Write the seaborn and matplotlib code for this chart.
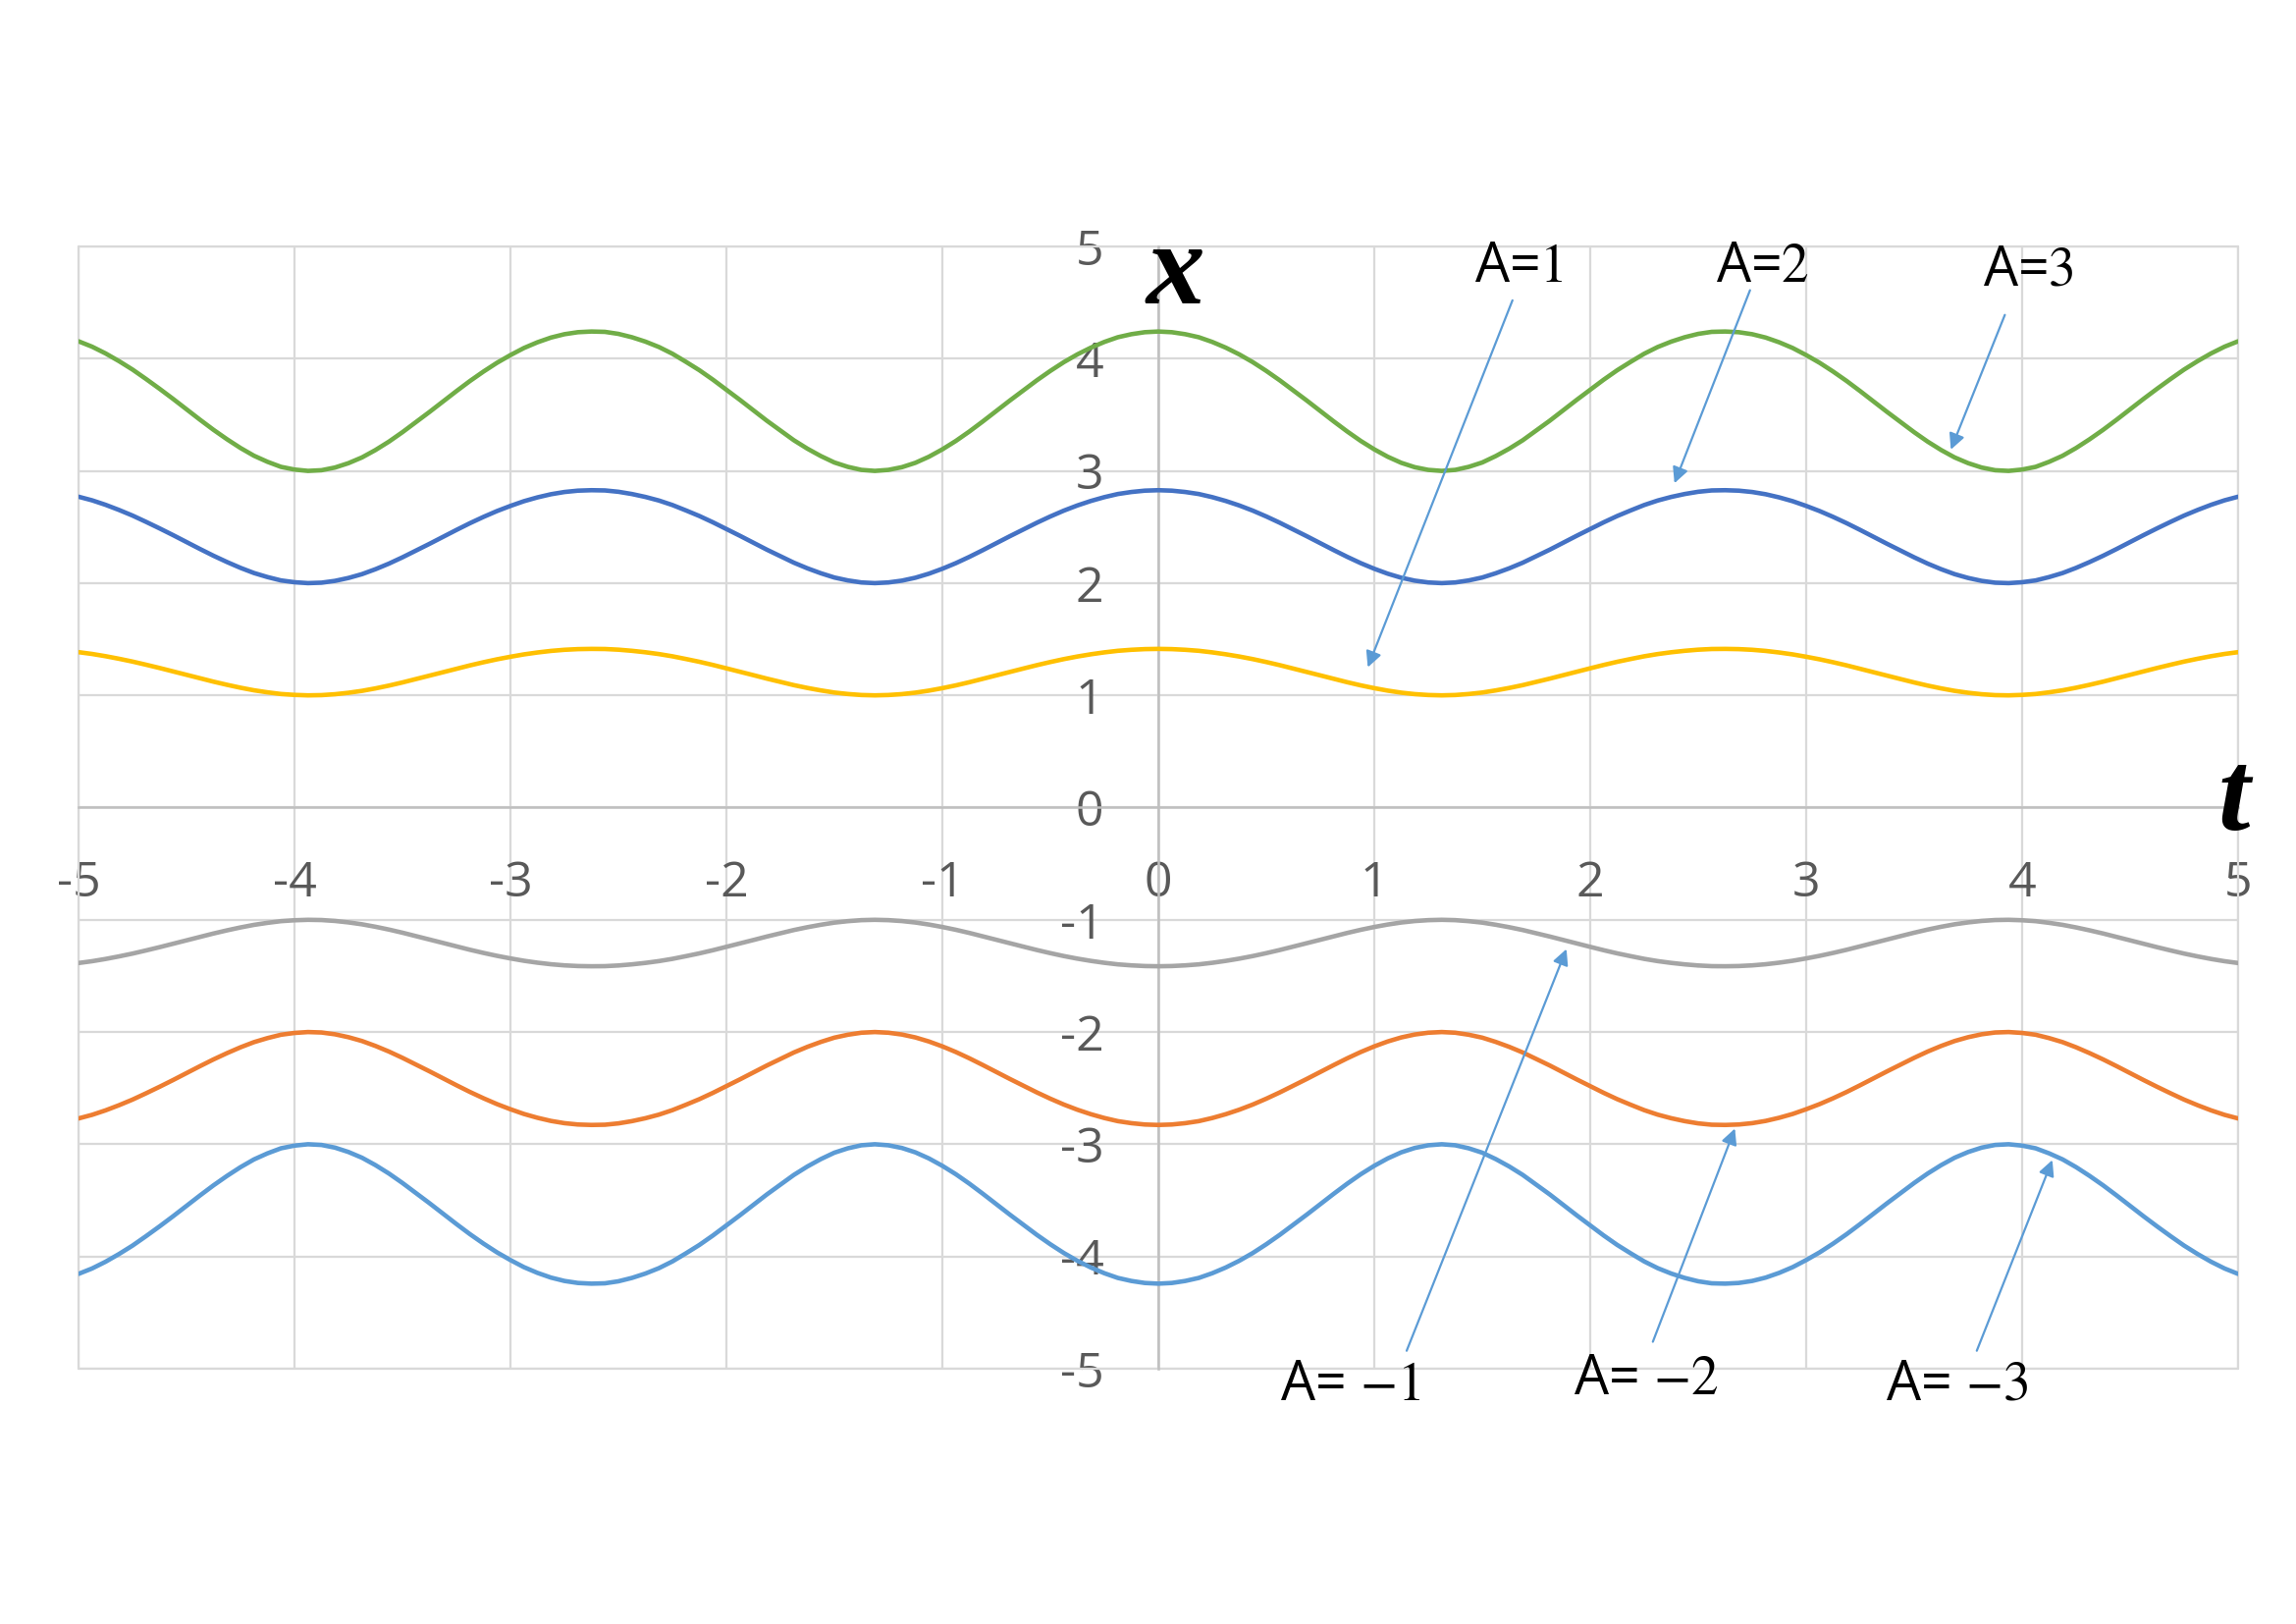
import numpy as np
import pandas as pd
import seaborn as sns
import matplotlib.pyplot as plt

# time grid (step 0.0625) and the values
t_values = np.linspace(-5, 5, 161)

x_a1 = [1.385, 1.369, 1.349, 1.326, 1.301, 1.273, 1.244, 1.214, 1.183, 1.152,
        1.122, 1.094, 1.068, 1.045, 1.027, 1.012, 1.004, 1.000, 1.002, 1.010,
        1.023, 1.040, 1.062, 1.087, 1.115, 1.145, 1.175, 1.206, 1.237, 1.267,
        1.295, 1.321, 1.344, 1.365, 1.382, 1.396, 1.406, 1.412, 1.414, 1.413,
        1.407, 1.397, 1.384, 1.368, 1.348, 1.324, 1.299, 1.271, 1.241, 1.211,
        1.180, 1.149, 1.120, 1.091, 1.066, 1.044, 1.025, 1.012, 1.003, 1.000,
        1.003, 1.011, 1.024, 1.042, 1.064, 1.089, 1.117, 1.147, 1.178, 1.209,
        1.239, 1.269, 1.297, 1.323, 1.346, 1.366, 1.383, 1.397, 1.406, 1.412,
        1.414, 1.412, 1.406, 1.397, 1.383, 1.366, 1.346, 1.323, 1.297, 1.269,
        1.239, 1.209, 1.178, 1.147, 1.117, 1.089, 1.064, 1.042, 1.024, 1.011,
        1.003, 1.000, 1.003, 1.012, 1.025, 1.044, 1.066, 1.091, 1.120, 1.149,
        1.180, 1.211, 1.241, 1.271, 1.299, 1.324, 1.348, 1.368, 1.384, 1.397,
        1.407, 1.413, 1.414, 1.412, 1.406, 1.396, 1.382, 1.365, 1.344, 1.321,
        1.295, 1.267, 1.237, 1.206, 1.175, 1.145, 1.115, 1.087, 1.062, 1.040,
        1.023, 1.010, 1.002, 1.000, 1.004, 1.012, 1.027, 1.045, 1.068, 1.094,
        1.122, 1.152, 1.183, 1.214, 1.244, 1.273, 1.301, 1.326, 1.349, 1.369,
        1.385]

x_a2 = [2.770, 2.738, 2.698, 2.652, 2.602, 2.546, 2.488, 2.428, 2.366, 2.304,
        2.244, 2.188, 2.136, 2.090, 2.054, 2.024, 2.008, 2.000, 2.004, 2.020,
        2.046, 2.080, 2.124, 2.174, 2.230, 2.290, 2.350, 2.412, 2.474, 2.534,
        2.590, 2.642, 2.688, 2.730, 2.764, 2.792, 2.812, 2.824, 2.828, 2.826,
        2.814, 2.794, 2.768, 2.736, 2.696, 2.648, 2.598, 2.542, 2.482, 2.422,
        2.360, 2.298, 2.240, 2.182, 2.132, 2.088, 2.050, 2.024, 2.006, 2.000,
        2.006, 2.022, 2.048, 2.084, 2.128, 2.178, 2.234, 2.294, 2.356, 2.418,
        2.478, 2.538, 2.594, 2.646, 2.692, 2.732, 2.766, 2.794, 2.812, 2.824,
        2.828, 2.824, 2.812, 2.794, 2.766, 2.732, 2.692, 2.646, 2.594, 2.538,
        2.478, 2.418, 2.356, 2.294, 2.234, 2.178, 2.128, 2.084, 2.048, 2.022,
        2.006, 2.000, 2.006, 2.024, 2.050, 2.088, 2.132, 2.182, 2.240, 2.298,
        2.360, 2.422, 2.482, 2.542, 2.598, 2.648, 2.696, 2.736, 2.768, 2.794,
        2.814, 2.826, 2.828, 2.824, 2.812, 2.792, 2.764, 2.730, 2.688, 2.642,
        2.590, 2.534, 2.474, 2.412, 2.350, 2.290, 2.230, 2.174, 2.124, 2.080,
        2.046, 2.020, 2.004, 2.000, 2.008, 2.024, 2.054, 2.090, 2.136, 2.188,
        2.244, 2.304, 2.366, 2.428, 2.488, 2.546, 2.602, 2.652, 2.698, 2.738,
        2.770]

x_a3 = [4.155, 4.107, 4.047, 3.978, 3.903, 3.819, 3.732, 3.642, 3.549, 3.456,
        3.366, 3.282, 3.204, 3.135, 3.081, 3.036, 3.012, 3.000, 3.006, 3.030,
        3.069, 3.120, 3.186, 3.261, 3.345, 3.435, 3.525, 3.618, 3.711, 3.801,
        3.885, 3.963, 4.032, 4.095, 4.146, 4.188, 4.218, 4.236, 4.242, 4.239,
        4.221, 4.191, 4.152, 4.104, 4.044, 3.972, 3.897, 3.813, 3.723, 3.633,
        3.540, 3.447, 3.360, 3.273, 3.198, 3.132, 3.075, 3.036, 3.009, 3.000,
        3.009, 3.033, 3.072, 3.126, 3.192, 3.267, 3.351, 3.441, 3.534, 3.627,
        3.717, 3.807, 3.891, 3.969, 4.038, 4.098, 4.149, 4.191, 4.218, 4.236,
        4.242, 4.236, 4.218, 4.191, 4.149, 4.098, 4.038, 3.969, 3.891, 3.807,
        3.717, 3.627, 3.534, 3.441, 3.351, 3.267, 3.192, 3.126, 3.072, 3.033,
        3.009, 3.000, 3.009, 3.036, 3.075, 3.132, 3.198, 3.273, 3.360, 3.447,
        3.540, 3.633, 3.723, 3.813, 3.897, 3.972, 4.044, 4.104, 4.152, 4.191,
        4.221, 4.239, 4.242, 4.236, 4.218, 4.188, 4.146, 4.095, 4.032, 3.963,
        3.885, 3.801, 3.711, 3.618, 3.525, 3.435, 3.345, 3.261, 3.186, 3.120,
        3.069, 3.030, 3.006, 3.000, 3.012, 3.036, 3.081, 3.135, 3.204, 3.282,
        3.366, 3.456, 3.549, 3.642, 3.732, 3.819, 3.903, 3.978, 4.047, 4.107,
        4.155]

x_am1 = [-1.385, -1.369, -1.349, -1.326, -1.301, -1.273, -1.244, -1.214, -1.183, -1.152,
         -1.122, -1.094, -1.068, -1.045, -1.027, -1.012, -1.004, -1.000, -1.002, -1.010,
         -1.023, -1.040, -1.062, -1.087, -1.115, -1.145, -1.175, -1.206, -1.237, -1.267,
         -1.295, -1.321, -1.344, -1.365, -1.382, -1.396, -1.406, -1.412, -1.414, -1.413,
         -1.407, -1.397, -1.384, -1.368, -1.348, -1.324, -1.299, -1.271, -1.241, -1.211,
         -1.180, -1.149, -1.120, -1.091, -1.066, -1.044, -1.025, -1.012, -1.003, -1.000,
         -1.003, -1.011, -1.024, -1.042, -1.064, -1.089, -1.117, -1.147, -1.178, -1.209,
         -1.239, -1.269, -1.297, -1.323, -1.346, -1.366, -1.383, -1.397, -1.406, -1.412,
         -1.414, -1.412, -1.406, -1.397, -1.383, -1.366, -1.346, -1.323, -1.297, -1.269,
         -1.239, -1.209, -1.178, -1.147, -1.117, -1.089, -1.064, -1.042, -1.024, -1.011,
         -1.003, -1.000, -1.003, -1.012, -1.025, -1.044, -1.066, -1.091, -1.120, -1.149,
         -1.180, -1.211, -1.241, -1.271, -1.299, -1.324, -1.348, -1.368, -1.384, -1.397,
         -1.407, -1.413, -1.414, -1.412, -1.406, -1.396, -1.382, -1.365, -1.344, -1.321,
         -1.295, -1.267, -1.237, -1.206, -1.175, -1.145, -1.115, -1.087, -1.062, -1.040,
         -1.023, -1.010, -1.002, -1.000, -1.004, -1.012, -1.027, -1.045, -1.068, -1.094,
         -1.122, -1.152, -1.183, -1.214, -1.244, -1.273, -1.301, -1.326, -1.349, -1.369,
         -1.385]

x_am2 = [-2.770, -2.738, -2.698, -2.652, -2.602, -2.546, -2.488, -2.428, -2.366, -2.304,
         -2.244, -2.188, -2.136, -2.090, -2.054, -2.024, -2.008, -2.000, -2.004, -2.020,
         -2.046, -2.080, -2.124, -2.174, -2.230, -2.290, -2.350, -2.412, -2.474, -2.534,
         -2.590, -2.642, -2.688, -2.730, -2.764, -2.792, -2.812, -2.824, -2.828, -2.826,
         -2.814, -2.794, -2.768, -2.736, -2.696, -2.648, -2.598, -2.542, -2.482, -2.422,
         -2.360, -2.298, -2.240, -2.182, -2.132, -2.088, -2.050, -2.024, -2.006, -2.000,
         -2.006, -2.022, -2.048, -2.084, -2.128, -2.178, -2.234, -2.294, -2.356, -2.418,
         -2.478, -2.538, -2.594, -2.646, -2.692, -2.732, -2.766, -2.794, -2.812, -2.824,
         -2.828, -2.824, -2.812, -2.794, -2.766, -2.732, -2.692, -2.646, -2.594, -2.538,
         -2.478, -2.418, -2.356, -2.294, -2.234, -2.178, -2.128, -2.084, -2.048, -2.022,
         -2.006, -2.000, -2.006, -2.024, -2.050, -2.088, -2.132, -2.182, -2.240, -2.298,
         -2.360, -2.422, -2.482, -2.542, -2.598, -2.648, -2.696, -2.736, -2.768, -2.794,
         -2.814, -2.826, -2.828, -2.824, -2.812, -2.792, -2.764, -2.730, -2.688, -2.642,
         -2.590, -2.534, -2.474, -2.412, -2.350, -2.290, -2.230, -2.174, -2.124, -2.080,
         -2.046, -2.020, -2.004, -2.000, -2.008, -2.024, -2.054, -2.090, -2.136, -2.188,
         -2.244, -2.304, -2.366, -2.428, -2.488, -2.546, -2.602, -2.652, -2.698, -2.738,
         -2.770]

x_am3 = [-4.155, -4.107, -4.047, -3.978, -3.903, -3.819, -3.732, -3.642, -3.549, -3.456,
         -3.366, -3.282, -3.204, -3.135, -3.081, -3.036, -3.012, -3.000, -3.006, -3.030,
         -3.069, -3.120, -3.186, -3.261, -3.345, -3.435, -3.525, -3.618, -3.711, -3.801,
         -3.885, -3.963, -4.032, -4.095, -4.146, -4.188, -4.218, -4.236, -4.242, -4.239,
         -4.221, -4.191, -4.152, -4.104, -4.044, -3.972, -3.897, -3.813, -3.723, -3.633,
         -3.540, -3.447, -3.360, -3.273, -3.198, -3.132, -3.075, -3.036, -3.009, -3.000,
         -3.009, -3.033, -3.072, -3.126, -3.192, -3.267, -3.351, -3.441, -3.534, -3.627,
         -3.717, -3.807, -3.891, -3.969, -4.038, -4.098, -4.149, -4.191, -4.218, -4.236,
         -4.242, -4.236, -4.218, -4.191, -4.149, -4.098, -4.038, -3.969, -3.891, -3.807,
         -3.717, -3.627, -3.534, -3.441, -3.351, -3.267, -3.192, -3.126, -3.072, -3.033,
         -3.009, -3.000, -3.009, -3.036, -3.075, -3.132, -3.198, -3.273, -3.360, -3.447,
         -3.540, -3.633, -3.723, -3.813, -3.897, -3.972, -4.044, -4.104, -4.152, -4.191,
         -4.221, -4.239, -4.242, -4.236, -4.218, -4.188, -4.146, -4.095, -4.032, -3.963,
         -3.885, -3.801, -3.711, -3.618, -3.525, -3.435, -3.345, -3.261, -3.186, -3.120,
         -3.069, -3.030, -3.006, -3.000, -3.012, -3.036, -3.081, -3.135, -3.204, -3.282,
         -3.366, -3.456, -3.549, -3.642, -3.732, -3.819, -3.903, -3.978, -4.047, -4.107,
         -4.155]

series_names = ["A=1", "A=2", "A=3", "A=-1", "A=-2", "A=-3"]
series_values = [x_a1, x_a2, x_a3, x_am1, x_am2, x_am3]
series_colors = ["#FFC000", "#4472C4", "#70AD47", "#A5A5A5", "#ED7D31", "#5B9BD5"]

tick_values = [-5, -4, -3, -2, -1, 0, 1, 2, 3, 4, 5]
tick_labels = ["-5", "-4", "-3", "-2", "-1", "0", "1", "2", "3", "4", "5"]

# annotation labels: text, text position, arrow tail, arrow head (data coords)
label_texts = ["A=$1$", "A=$2$", "A=$3$", "A= $-1$", "A= $-2$", "A= $-3$"]
label_pos = [(1.67, 4.81), (2.80, 4.81), (4.03, 4.78), (0.89, -5.15), (2.26, -5.10), (3.70, -5.15)]
arrow_tail = [(1.64, 4.52), (2.74, 4.61), (3.92, 4.39), (1.15, -4.84), (2.29, -4.76), (3.79, -4.84)]
arrow_head = [(0.97, 1.25), (2.39, 2.89), (3.67, 3.19), (1.89, -1.26), (2.67, -2.86), (4.14, -3.14)]

df = pd.DataFrame({
    "t": np.tile(t_values, len(series_names)),
    "x": np.concatenate(series_values),
    "A": np.repeat(series_names, len(t_values)),
})

sns.set_style("white")
plt.rcParams["font.family"] = ["Open Sans", "DejaVu Sans"]
plt.rcParams["mathtext.fontset"] = "stix"

fig = plt.figure(figsize=(23.39, 16.54), dpi=100)
ax = fig.add_axes([80 / 2339, 1 - 1394 / 1654, 2200 / 2339, 1143 / 1654])

sns.lineplot(data=df, x="t", y="x", hue="A", palette=dict(zip(series_names, series_colors)),
             hue_order=series_names, legend=False, estimator=None, sort=False,
             linewidth=3.3, solid_joinstyle="round", ax=ax, zorder=3)

ax.set_xlim(-5, 5)
ax.set_ylim(-5, 5)
ax.set_xticks(tick_values)
ax.set_xticklabels(tick_labels)
ax.set_yticks(tick_values)
ax.set_yticklabels(tick_labels)
ax.set_xlabel("")
ax.set_ylabel("")
ax.grid(True, color="#D9D9D9", linewidth=1.6)

# axes crossing at the origin
for side in ["top", "right"]:
    ax.spines[side].set_visible(False)
ax.spines["left"].set_position(("data", 0))
ax.spines["bottom"].set_position(("data", 0))
ax.spines["left"].set_color("#BFBFBF")
ax.spines["bottom"].set_color("#BFBFBF")
ax.spines["left"].set_linewidth(1.8)
ax.spines["bottom"].set_linewidth(1.8)
ax.tick_params(axis="y", length=0, pad=40, labelsize=36, labelcolor="#595959")
ax.tick_params(axis="x", length=0, pad=38, labelsize=36, labelcolor="#595959")

# plot area frame
for v in [-5, 5]:
    ax.axvline(v, color="#D9D9D9", linewidth=1.6, clip_on=False, zorder=1)
    ax.axhline(v, color="#D9D9D9", linewidth=1.6, clip_on=False, zorder=1)

ax.text(0.08, 4.74, "x", family="Liberation Serif", style="italic", fontweight="bold",
        fontsize=86, color="black", ha="center", va="center", zorder=5)
ax.text(4.98, 0.05, "t", family="Liberation Serif", style="italic", fontweight="bold",
        fontsize=84, color="black", ha="center", va="center", zorder=5)

for txt, pos, tail, head in zip(label_texts, label_pos, arrow_tail, arrow_head):
    ax.text(pos[0], pos[1], txt, fontsize=40, color="black", ha="center", va="center",
            clip_on=False, zorder=5)
    ax.annotate("", xy=head, xytext=tail, annotation_clip=False,
                arrowprops=dict(arrowstyle="-|>", color="#5B9BD5", lw=1.6,
                                mutation_scale=24, shrinkA=0, shrinkB=0), zorder=4)

fig.savefig("out.png", dpi=100, facecolor="white")
